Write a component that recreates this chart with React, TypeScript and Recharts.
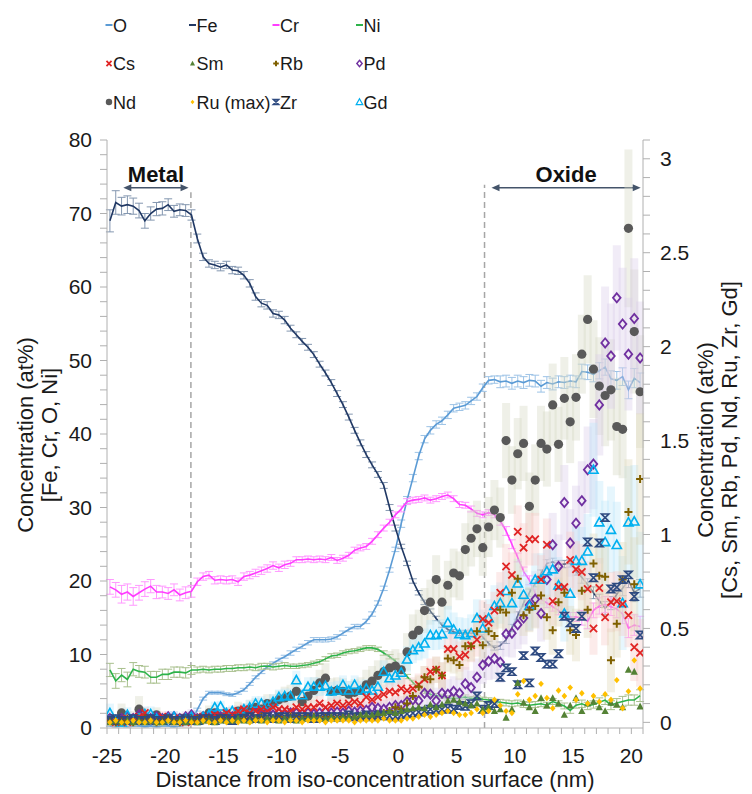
import React from 'react';
import { ComposedChart, Line, Scatter, XAxis, YAxis, ErrorBar, ReferenceLine } from 'recharts';

const FONT = '"Liberation Sans", Arial, sans-serif';
const TXT = '#1a1a1a';
const AXIS = '#b0b0b0';

// distance from the iso-concentration surface (nm)
const X_NM = [
  -24.75, -24.25, -23.75, -23.25, -22.75, -22.25, -21.75, -21.25, -20.75, -20.25,
  -19.75, -19.25, -18.75, -18.25, -17.75, -17.25, -16.75, -16.25, -15.75, -15.25,
  -14.75, -14.25, -13.75, -13.25, -12.75, -12.25, -11.75, -11.25, -10.75, -10.25,
  -9.75, -9.25, -8.75, -8.25, -7.75, -7.25, -6.75, -6.25, -5.75, -5.25,
  -4.75, -4.25, -3.75, -3.25, -2.75, -2.25, -1.75, -1.25, -0.75, -0.25,
  0.25, 0.75, 1.25, 1.75, 2.25, 2.75, 3.25, 3.75, 4.25, 4.75,
  5.25, 5.75, 6.25, 6.75, 7.25, 7.75, 8.25, 8.75, 9.25, 9.75,
  10.25, 10.75, 11.25, 11.75, 12.25, 12.75, 13.25, 13.75, 14.25, 14.75,
  15.25, 15.75, 16.25, 16.75, 17.25, 17.75, 18.25, 18.75, 19.25, 19.75,
  20.25, 20.75,
];

// left axis (at%)
const O = [
  0.3, 0.2, 0.3, 0.2, 0.3, 0.3, 0.2, 0.3, 0.2, 0.3,
  0.3, 0.2, 0.3, 0.4, 0.9, 2.5, 4.0, 4.8, 4.8, 4.8,
  4.6, 4.5, 4.8, 5.2, 6.0, 6.9, 7.6, 8.3, 8.8, 9.3,
  9.7, 10.2, 10.7, 11.1, 11.6, 12.0, 12.0, 12.0, 12.1, 12.4,
  12.9, 13.4, 13.8, 13.8, 14.5, 15.5, 17.0, 19.0, 21.5, 24.3,
  27.8, 31.0, 34.0, 37.0, 39.3, 40.5, 41.3, 41.8, 42.6, 43.5,
  43.7, 43.9, 44.5, 45.1, 46.3, 47.3, 47.4, 47.1, 47.2, 46.9,
  47.2, 47.0, 47.3, 47.2, 46.5, 47.0, 46.8, 47.1, 47.0, 47.2,
  47.1, 48.5, 48.4, 48.1, 48.6, 49.1, 47.5, 47.3, 47.8, 46.0,
  47.6, 47.0,
];
const O_ERR = [
  0.1, 0.1, 0.1, 0.1, 0.1, 0.1, 0.1, 0.1, 0.1, 0.1,
  0.1, 0.1, 0.1, 0.1, 0.1, 0.2, 0.2, 0.2, 0.2, 0.2,
  0.2, 0.2, 0.2, 0.2, 0.2, 0.2, 0.2, 0.2, 0.2, 0.2,
  0.2, 0.3, 0.3, 0.3, 0.3, 0.3, 0.3, 0.3, 0.3, 0.3,
  0.3, 0.3, 0.3, 0.3, 0.3, 0.3, 0.3, 0.3, 0.3, 0.3,
  0.5, 0.5, 0.5, 0.5, 0.5, 0.5, 0.5, 0.5, 0.5, 0.5,
  0.5, 0.5, 0.5, 0.5, 0.5, 0.5, 0.5, 0.8, 0.8, 0.8,
  0.8, 0.8, 0.8, 0.8, 0.8, 0.8, 0.8, 0.8, 0.8, 0.8,
  0.8, 1.0, 1.0, 1.0, 1.1, 1.1, 1.1, 1.2, 1.2, 1.2,
  1.3, 1.3,
];
const FE = [
  69, 71.5, 71, 71.2, 71, 70.4, 69, 70, 70.6, 70.7,
  71.2, 70.3, 70.5, 70.4, 69.8, 66.6, 64.1, 63.2, 63, 62.7,
  63, 62.3, 62.2, 61.6, 60.5, 58.7, 57.8, 57.5, 56.4, 56.2,
  55.5, 54.4, 53.5, 52.6, 51.8, 50.8, 49.5, 48.3, 47, 45.5,
  44, 42.3, 40.5, 38.8, 37.2, 35.8, 34.5, 33, 30, 27.2,
  24.7, 22.4, 20, 18.4, 17.1, 15.9, 14.9, 14, 13.4, 13.1,
  12.9, 13, 12.9, 12.9, 12.4, 11.5, 10.9, 11.2, 12, 13.6,
  15.3, 17, 18.4, 19.7, 21, 22.4, 22.6, 22.3, 22.3, 22.4,
  21.3, 20.5, 19.5, 18.4, 17.3, 16.3, 17, 18.2, 19, 20.1,
  18.4, 19,
];
const FE_ERR = [
  1.5, 1.6, 1.2, 1.2, 1.1, 1.0, 1.0, 0.9, 0.9, 0.9,
  0.8, 0.8, 0.8, 0.8, 0.7, 0.6, 0.5, 0.5, 0.5, 0.5,
  0.5, 0.5, 0.5, 0.5, 0.5, 0.5, 0.5, 0.5, 0.5, 0.5,
  0.5, 0.4, 0.4, 0.4, 0.4, 0.4, 0.4, 0.4, 0.4, 0.4,
  0.4, 0.4, 0.4, 0.4, 0.4, 0.4, 0.4, 0.4, 0.4, 0.4,
  0.3, 0.3, 0.3, 0.3, 0.3, 0.3, 0.3, 0.3, 0.3, 0.3,
  0.3, 0.3, 0.3, 0.3, 0.3, 0.3, 0.3, 0.5, 0.5, 0.5,
  0.5, 0.5, 0.5, 0.5, 0.5, 0.5, 0.5, 0.5, 0.5, 0.5,
  0.5, 0.8, 0.8, 0.8, 0.9, 0.9, 0.9, 1.0, 1.0, 1.0,
  1.2, 1.2,
];
const CR = [
  19.2, 18.8, 18.2, 18.5, 17.9, 18.4, 18.9, 19.3, 18.5, 18.5,
  18.3, 18.8, 18.1, 18.4, 18.6, 19.9, 20.6, 20.8, 20.1, 20.2,
  20.1, 20.2, 19.9, 20.6, 20.8, 21.1, 21.4, 21.7, 22.1, 21.8,
  22.2, 22.4, 22.9, 22.9, 23.0, 22.9, 23.0, 22.9, 23.2, 22.8,
  23.1, 23.5, 24.2, 24.5, 24.7, 25.4, 26.3, 27.2, 28.0, 29.0,
  29.8, 30.8, 31.0, 31.1, 31.3, 31.0, 31.2, 31.5, 31.7, 31.2,
  30.4, 30.3, 29.8, 29.2, 29.0, 29.3, 29.0, 28.2, 26.8, 25.0,
  23.2, 21.3, 20.1, 18.3, 17.5, 17.0, 16.5, 16.0, 15.5, 15.1,
  15.1, 15.0, 14.5, 16.0, 16.6, 16.8, 16.5, 16.2, 15.5, 13.6,
  14.0, 13.8,
];
const CR_ERR = [
  1.0, 1.0, 1.2, 1.1, 1.2, 1.0, 1.0, 0.9, 0.9, 0.8,
  0.8, 0.8, 0.8, 0.8, 0.8, 0.5, 0.5, 0.5, 0.5, 0.5,
  0.5, 0.5, 0.5, 0.5, 0.5, 0.5, 0.5, 0.5, 0.5, 0.5,
  0.5, 0.4, 0.4, 0.4, 0.4, 0.4, 0.4, 0.4, 0.4, 0.4,
  0.4, 0.4, 0.4, 0.4, 0.4, 0.4, 0.4, 0.4, 0.4, 0.4,
  0.4, 0.4, 0.4, 0.4, 0.4, 0.4, 0.4, 0.4, 0.4, 0.4,
  0.4, 0.4, 0.4, 0.4, 0.4, 0.4, 0.4, 0.6, 0.6, 0.6,
  0.6, 0.6, 0.6, 0.6, 0.6, 0.6, 0.6, 0.6, 0.6, 0.6,
  0.6, 1.0, 1.0, 1.0, 1.1, 1.1, 1.2, 1.2, 1.3, 1.3,
  1.4, 1.4,
];
const NI = [
  7.9, 6.4, 7.2, 6.6, 8.0, 7.7, 7.6, 6.9, 6.9, 7.3,
  7.3, 7.6, 7.6, 7.5, 7.9, 7.9, 8.0, 7.9, 8.0, 8.0,
  8.1, 8.1, 8.2, 8.2, 8.3, 8.2, 8.4, 8.4, 8.3, 8.4,
  8.5, 8.4, 8.4, 8.5, 8.6, 8.8, 9.0, 9.4, 9.8, 9.9,
  10.2, 10.4, 10.5, 10.7, 10.9, 10.9, 10.7, 10.2, 9.7, 9.1,
  8.0, 7.0, 6.2, 5.5, 5.0, 4.6, 4.4, 4.3, 4.1, 4.0,
  4.1, 4.2, 4.0, 4.1, 3.9, 3.8, 3.6, 3.5, 3.4, 3.3,
  3.4, 3.2, 3.1, 3.2, 3.3, 3.1, 3.6, 3.3, 3.0, 2.4,
  3.1, 3.3, 3.0, 3.2, 3.5, 3.8, 3.1, 3.4, 3.6, 3.8,
  3.8, 4.4,
];
const NI_ERR = [
  0.9, 1.0, 0.9, 1.0, 0.9, 0.8, 0.8, 0.8, 0.8, 0.7,
  0.7, 0.7, 0.7, 0.7, 0.6, 0.4, 0.4, 0.4, 0.4, 0.4,
  0.4, 0.4, 0.4, 0.4, 0.4, 0.4, 0.4, 0.4, 0.4, 0.4,
  0.4, 0.3, 0.3, 0.3, 0.3, 0.3, 0.3, 0.3, 0.3, 0.3,
  0.3, 0.3, 0.3, 0.3, 0.3, 0.3, 0.3, 0.3, 0.3, 0.3,
  0.3, 0.3, 0.3, 0.3, 0.3, 0.3, 0.3, 0.3, 0.3, 0.3,
  0.3, 0.3, 0.3, 0.3, 0.3, 0.3, 0.3, 0.4, 0.4, 0.4,
  0.4, 0.4, 0.4, 0.4, 0.4, 0.4, 0.4, 0.4, 0.4, 0.4,
  0.4, 0.5, 0.5, 0.5, 0.6, 0.6, 0.6, 0.6, 0.7, 0.7,
  0.7, 0.8,
];

// right axis (at%)
const CS = [
  0.01, 0.0, 0.02, 0.0, 0.01, 0.03, 0.05, 0.02, 0.01, 0.03,
  0.02, 0.01, 0.02, 0.0, 0.01, 0.02, 0.03, 0.02, 0.04, 0.03,
  0.05, 0.04, 0.06, 0.07, 0.05, 0.06, 0.07, 0.06, 0.08, 0.07,
  0.07, 0.06, 0.08, 0.07, 0.08, 0.08, 0.1, 0.08, 0.09, 0.1,
  0.09, 0.1, 0.11, 0.1, 0.135, 0.12, 0.135, 0.15, 0.165, 0.16,
  0.18, 0.17, 0.18, 0.2, 0.23, 0.27, 0.28, 0.25, 0.39, 0.39,
  0.35, 0.36, 0.41, 0.44, 0.55, 0.53, 0.595, 0.69, 0.83, 0.785,
  1.015, 0.93, 0.975, 0.975, 0.76, 0.945, 0.645, 0.72, 0.72, 0.865,
  0.815, 0.8, 0.71, 0.5, 0.715, 0.56, 0.64, 0.645, 0.63, 0.57,
  0.4, 0.37,
];
const CS_ERR = [
  0.03, 0.03, 0.03, 0.03, 0.03, 0.03, 0.03, 0.03, 0.03, 0.03,
  0.03, 0.03, 0.03, 0.03, 0.03, 0.03, 0.03, 0.03, 0.03, 0.03,
  0.03, 0.03, 0.03, 0.03, 0.03, 0.03, 0.03, 0.03, 0.03, 0.03,
  0.04, 0.04, 0.04, 0.04, 0.04, 0.04, 0.04, 0.04, 0.04, 0.04,
  0.04, 0.04, 0.04, 0.04, 0.05, 0.05, 0.05, 0.05, 0.05, 0.05,
  0.06, 0.06, 0.06, 0.06, 0.07, 0.07, 0.07, 0.07, 0.08, 0.08,
  0.08, 0.08, 0.09, 0.09, 0.1, 0.1, 0.1, 0.11, 0.12, 0.12,
  0.14, 0.13, 0.14, 0.14, 0.13, 0.14, 0.13, 0.14, 0.14, 0.15,
  0.15, 0.15, 0.15, 0.14, 0.16, 0.15, 0.16, 0.16, 0.17, 0.17,
  0.18, 0.18,
];
const SM = [
  0.0, 0.01, 0.0, 0.01, 0.0, 0.01, 0.0, 0.01, 0.0, 0.0,
  0.01, 0.0, 0.01, 0.0, 0.01, 0.0, 0.01, 0.01, 0.0, 0.01,
  0.01, 0.01, 0.02, 0.01, 0.01, 0.02, 0.01, 0.02, 0.02, 0.01,
  0.02, 0.02, 0.01, 0.02, 0.02, 0.03, 0.02, 0.02, 0.03, 0.02,
  0.03, 0.03, 0.03, 0.04, 0.04, 0.04, 0.05, 0.05, 0.06, 0.05,
  0.06, 0.07, 0.075, 0.08, 0.075, 0.095, 0.08, 0.095, 0.115, 0.12,
  0.11, 0.1, 0.09, 0.1, 0.07, 0.08, 0.06, 0.07, 0.025, 0.07,
  0.21, 0.105, 0.08, 0.06, 0.13, 0.09, 0.13, 0.1, 0.04, 0.09,
  0.13, 0.06, 0.1, 0.11, 0.08, 0.06, 0.105, 0.095, 0.08, 0.28,
  0.27, 0.085,
];
const RB = [
  0.01, 0.0, 0.01, 0.02, 0.0, 0.01, 0.02, 0.01, 0.0, 0.01,
  0.02, 0.01, 0.0, 0.01, 0.01, 0.02, 0.01, 0.02, 0.01, 0.02,
  0.02, 0.01, 0.02, 0.02, 0.01, 0.02, 0.03, 0.02, 0.02, 0.03,
  0.02, 0.03, 0.03, 0.02, 0.03, 0.03, 0.02, 0.03, 0.03, 0.02,
  0.03, 0.03, 0.02, 0.03, 0.03, 0.03, 0.04, 0.05, 0.06, 0.08,
  0.07, 0.1, 0.14, 0.19, 0.24, 0.23, 0.28, 0.25, 0.34, 0.33,
  0.305, 0.405, 0.405, 0.485, 0.41, 0.485, 0.46, 0.6, 0.585, 0.69,
  0.765, 0.57, 0.6, 0.62, 0.675, 0.56, 0.49, 0.64, 0.69, 0.49,
  0.465, 0.7, 0.6, 0.845, 0.78, 0.775, 0.33, 0.525, 0.76, 1.12,
  0.735, 1.295,
];
const RB_ERR = [
  0.02, 0.02, 0.02, 0.02, 0.02, 0.02, 0.02, 0.02, 0.02, 0.02,
  0.02, 0.02, 0.02, 0.02, 0.02, 0.02, 0.02, 0.02, 0.02, 0.02,
  0.02, 0.02, 0.02, 0.02, 0.02, 0.02, 0.02, 0.02, 0.02, 0.02,
  0.02, 0.02, 0.02, 0.02, 0.02, 0.02, 0.02, 0.02, 0.02, 0.02,
  0.02, 0.02, 0.02, 0.02, 0.02, 0.02, 0.02, 0.02, 0.02, 0.02,
  0.04, 0.05, 0.05, 0.06, 0.06, 0.06, 0.07, 0.07, 0.07, 0.07,
  0.08, 0.08, 0.08, 0.09, 0.09, 0.09, 0.1, 0.1, 0.1, 0.11,
  0.11, 0.11, 0.12, 0.12, 0.12, 0.12, 0.13, 0.13, 0.13, 0.13,
  0.14, 0.15, 0.15, 0.16, 0.16, 0.17, 0.17, 0.18, 0.2, 0.28,
  0.25, 0.35,
];
const PD = [
  0.02, 0.01, 0.02, 0.03, 0.02, 0.04, 0.03, 0.02, 0.03, 0.02,
  0.03, 0.03, 0.02, 0.03, 0.04, 0.02, 0.03, 0.03, 0.04, 0.03,
  0.04, 0.03, 0.04, 0.05, 0.04, 0.05, 0.04, 0.05, 0.04, 0.05,
  0.04, 0.05, 0.05, 0.045, 0.05, 0.045, 0.05, 0.055, 0.05, 0.055,
  0.05, 0.06, 0.055, 0.06, 0.065, 0.08, 0.075, 0.07, 0.08, 0.09,
  0.09, 0.11, 0.12, 0.115, 0.155, 0.15, 0.115, 0.155, 0.15, 0.165,
  0.155, 0.205, 0.185, 0.24, 0.305, 0.325, 0.34, 0.32, 0.47, 0.475,
  0.52, 0.555, 0.625, 0.655, 0.58, 0.76, 0.945, 0.83, 1.17, 0.955,
  1.06, 1.18, 1.345, 1.375, 1.69, 2.02, 1.95, 2.26, 2.12, 1.96,
  2.15, 1.94,
];
const PD_ERR = [
  0.03, 0.03, 0.03, 0.03, 0.03, 0.03, 0.03, 0.03, 0.03, 0.03,
  0.03, 0.03, 0.03, 0.03, 0.03, 0.03, 0.03, 0.03, 0.03, 0.03,
  0.03, 0.03, 0.03, 0.03, 0.03, 0.03, 0.03, 0.03, 0.03, 0.03,
  0.03, 0.03, 0.03, 0.03, 0.03, 0.04, 0.04, 0.04, 0.04, 0.04,
  0.04, 0.04, 0.04, 0.04, 0.05, 0.05, 0.05, 0.05, 0.05, 0.05,
  0.05, 0.06, 0.06, 0.06, 0.07, 0.07, 0.07, 0.07, 0.08, 0.08,
  0.08, 0.09, 0.09, 0.1, 0.1, 0.1, 0.11, 0.11, 0.12, 0.13,
  0.13, 0.14, 0.14, 0.15, 0.15, 0.16, 0.17, 0.17, 0.2, 0.18,
  0.2, 0.21, 0.23, 0.24, 0.27, 0.3, 0.28, 0.28, 0.3, 0.3,
  0.32, 0.3,
];
const ND = [
  0.02, 0.01, 0.05, 0.01, 0.02, 0.07, 0.03, 0.02, 0.04, 0.01,
  0.02, 0.01, 0.02, 0.01, 0.02, 0.01, 0.03, 0.05, 0.05, 0.03,
  0.04, 0.03, 0.06, 0.05, 0.07, 0.08, 0.07, 0.1, 0.1, 0.12,
  0.13, 0.14, 0.165, 0.11, 0.14, 0.17, 0.21, 0.235, 0.165, 0.17,
  0.165, 0.15, 0.16, 0.17, 0.2, 0.22, 0.25, 0.27, 0.29, 0.3,
  0.28, 0.375, 0.465, 0.49, 0.595, 0.64, 0.76, 0.64, 0.73, 0.795,
  0.78, 0.92, 0.98, 1.03, 0.93, 1.04, 1.13, 1.09, 1.5, 1.29,
  1.43, 1.485, 1.15, 1.29, 1.485, 1.455, 1.69, 1.48, 1.725, 1.6,
  1.73, 1.96, 2.145, 1.88, 1.79, 1.74, 1.77, 1.575, 1.56, 2.63,
  2.08, 1.76,
];
const ND_ERR = [
  0.04, 0.03, 0.05, 0.03, 0.04, 0.07, 0.04, 0.03, 0.04, 0.03,
  0.03, 0.03, 0.03, 0.03, 0.03, 0.03, 0.03, 0.04, 0.04, 0.04,
  0.04, 0.04, 0.05, 0.05, 0.05, 0.05, 0.05, 0.05, 0.05, 0.05,
  0.06, 0.06, 0.07, 0.06, 0.06, 0.07, 0.07, 0.08, 0.07, 0.07,
  0.07, 0.07, 0.07, 0.07, 0.08, 0.08, 0.08, 0.09, 0.09, 0.09,
  0.09, 0.1, 0.11, 0.11, 0.12, 0.12, 0.13, 0.12, 0.13, 0.13,
  0.13, 0.14, 0.15, 0.15, 0.15, 0.16, 0.16, 0.16, 0.2, 0.18,
  0.19, 0.2, 0.18, 0.19, 0.2, 0.2, 0.22, 0.2, 0.22, 0.22,
  0.23, 0.21, 0.235, 0.26, 0.26, 0.27, 0.27, 0.26, 0.26, 0.42,
  0.33, 0.3,
];
const RU = [
  0.0, 0.01, 0.0, 0.0, 0.01, 0.0, 0.0, 0.01, 0.0, 0.0,
  0.01, 0.0, 0.0, 0.01, 0.0, 0.0, 0.01, 0.0, 0.0, 0.01,
  0.0, 0.01, 0.0, 0.01, 0.0, 0.01, 0.01, 0.0, 0.01, 0.01,
  0.0, 0.01, 0.01, 0.0, 0.01, 0.01, 0.01, 0.0, 0.01, 0.01,
  0.01, 0.01, 0.0, 0.01, 0.01, 0.01, 0.01, 0.02, 0.01, 0.01,
  0.01, 0.02, 0.02, 0.03, 0.04, 0.03, 0.04, 0.05, 0.06, 0.05,
  0.04, 0.04, 0.05, 0.07, 0.05, 0.06, 0.12, 0.09, 0.06, 0.05,
  0.15, 0.22, 0.12, 0.14, 0.205, 0.13, 0.075, 0.17, 0.14, 0.185,
  0.12, 0.155, 0.1, 0.14, 0.11, 0.15, 0.12, 0.225, 0.075, 0.165,
  0.33, 0.18,
];
const ZR = [
  0.01, 0.02, 0.01, 0.01, 0.02, 0.01, 0.01, 0.02, 0.01, 0.01,
  0.02, 0.01, 0.01, 0.02, 0.01, 0.01, 0.02, 0.02, 0.01, 0.02,
  0.02, 0.01, 0.02, 0.02, 0.03, 0.02, 0.02, 0.03, 0.02, 0.03,
  0.03, 0.02, 0.03, 0.03, 0.03, 0.02, 0.03, 0.03, 0.03, 0.03,
  0.03, 0.04, 0.03, 0.03, 0.04, 0.03, 0.04, 0.035, 0.035, 0.03,
  0.04, 0.045, 0.05, 0.055, 0.06, 0.07, 0.065, 0.07, 0.075, 0.07,
  0.09, 0.085, 0.1, 0.14, 0.07, 0.09, 0.1, 0.24, 0.29, 0.27,
  0.2, 0.355, 0.21, 0.38, 0.345, 0.31, 0.31, 0.365, 0.565, 0.53,
  0.5, 0.565, 0.96, 0.77, 0.955, 1.09, 0.71, 0.72, 0.76, 0.785,
  0.67, 0.465,
];
const GD = [
  0.05, 0.01, 0.0, 0.04, 0.01, 0.02, 0.045, 0.045, 0.02, 0.01,
  0.02, 0.03, 0.01, 0.02, 0.03, 0.01, 0.03, 0.04, 0.08, 0.085,
  0.05, 0.06, 0.05, 0.07, 0.08, 0.1, 0.1, 0.09, 0.11, 0.135,
  0.14, 0.14, 0.225, 0.145, 0.19, 0.19, 0.19, 0.195, 0.165, 0.17,
  0.2, 0.17, 0.2, 0.17, 0.18, 0.17, 0.19, 0.27, 0.235, 0.25,
  0.265, 0.335, 0.385, 0.4, 0.42, 0.465, 0.465, 0.47, 0.53, 0.495,
  0.47, 0.465, 0.475, 0.555, 0.5, 0.555, 0.62, 0.635, 0.7, 0.635,
  0.74, 0.68, 0.62, 0.76, 0.76, 0.805, 0.815, 0.73, 0.58, 0.685,
  0.86, 0.86, 0.91, 1.345, 1.065, 0.96, 1.025, 0.945, 0.635, 1.065,
  1.07, 0.735,
];
const GD_ERR = [
  0.05, 0.03, 0.03, 0.04, 0.03, 0.03, 0.04, 0.04, 0.03, 0.03,
  0.03, 0.03, 0.03, 0.03, 0.03, 0.03, 0.03, 0.03, 0.03, 0.03,
  0.03, 0.03, 0.03, 0.03, 0.04, 0.04, 0.04, 0.04, 0.04, 0.04,
  0.04, 0.04, 0.05, 0.04, 0.05, 0.05, 0.05, 0.05, 0.05, 0.05,
  0.05, 0.05, 0.05, 0.05, 0.05, 0.05, 0.05, 0.06, 0.06, 0.06,
  0.06, 0.07, 0.07, 0.07, 0.08, 0.08, 0.08, 0.08, 0.09, 0.09,
  0.09, 0.09, 0.1, 0.1, 0.1, 0.1, 0.11, 0.11, 0.12, 0.12,
  0.13, 0.13, 0.13, 0.14, 0.14, 0.15, 0.15, 0.15, 0.15, 0.16,
  0.18, 0.18, 0.2, 0.25, 0.22, 0.22, 0.23, 0.23, 0.25, 0.3,
  0.3, 0.28,
];

const X_TICKS = [
  -25, -24, -23, -22, -21, -20, -19, -18, -17, -16, -15, -14, -13, -12, -11, -10,
  -9, -8, -7, -6, -5, -4, -3, -2, -1, 0, 1, 2, 3, 4, 5, 6, 7, 8, 9, 10,
  11, 12, 13, 14, 15, 16, 17, 18, 19, 20, 21,
];
const L_TICKS = [
  0, 2, 4, 6, 8, 10, 12, 14, 16, 18, 20, 22, 24, 26, 28, 30, 32, 34, 36, 38, 40,
  42, 44, 46, 48, 50, 52, 54, 56, 58, 60, 62, 64, 66, 68, 70, 72, 74, 76, 78, 80,
];
const R_TICKS = [
  0, 0.1, 0.2, 0.3, 0.4, 0.5, 0.6, 0.7, 0.8, 0.9, 1, 1.1, 1.2, 1.3, 1.4, 1.5,
  1.6, 1.7, 1.8, 1.9, 2, 2.1, 2.2, 2.3, 2.4, 2.5, 2.6, 2.7, 2.8, 2.9, 3, 3.1,
];

const METAL_EDGE = -17.8;
const OXIDE_EDGE = 7.4;

const C: Record<string, string> = {
  o: '#5b9bd5',
  fe: '#203864',
  cr: '#ff3dff',
  ni: '#2db34a',
  cs: '#e02424',
  sm: '#548235',
  rb: '#7f6000',
  pd: '#7030a0',
  nd: '#595959',
  ru: '#ffc000',
  zr: '#2e4a80',
  gd: '#00b0f0',
};

const LEGEND = [
  [
    { key: 'o', name: 'O', kind: 'line' },
    { key: 'fe', name: 'Fe', kind: 'line' },
    { key: 'cr', name: 'Cr', kind: 'line' },
    { key: 'ni', name: 'Ni', kind: 'line' },
  ],
  [
    { key: 'cs', name: 'Cs', kind: 'cs' },
    { key: 'sm', name: 'Sm', kind: 'sm' },
    { key: 'rb', name: 'Rb', kind: 'rb' },
    { key: 'pd', name: 'Pd', kind: 'pd' },
  ],
  [
    { key: 'nd', name: 'Nd', kind: 'nd' },
    { key: 'ru', name: 'Ru (max)', kind: 'ru' },
    { key: 'zr', name: 'Zr', kind: 'zr' },
    { key: 'gd', name: 'Gd', kind: 'gd' },
  ],
];

const rows = X_NM.map((x, i) => ({
  x,
  o: O[i], oErr: O_ERR[i],
  fe: FE[i], feErr: FE_ERR[i],
  cr: CR[i], crErr: CR_ERR[i],
  ni: NI[i], niErr: NI_ERR[i],
  cs: CS[i], csErr: CS_ERR[i],
  sm: SM[i],
  rb: RB[i], rbErr: RB_ERR[i],
  pd: PD[i], pdErr: PD_ERR[i],
  nd: ND[i], ndErr: ND_ERR[i],
  ru: RU[i],
  zr: ZR[i],
  gd: GD[i], gdErr: GD_ERR[i],
}));

function marker(kind: string, cx: number, cy: number, s = 1) {
  const a = 3.6 * s;
  switch (kind) {
    case 'nd':
      return <circle cx={cx} cy={cy} r={4.6 * s} fill={C.nd} />;
    case 'pd':
      return (
        <path
          d={`M${cx} ${cy - 4.6 * s}L${cx + 3.8 * s} ${cy}L${cx} ${cy + 4.6 * s}L${cx - 3.8 * s} ${cy}Z`}
          fill="none" stroke={C.pd} strokeWidth={1.8 * Math.max(s, 0.8)}
        />
      );
    case 'gd':
      return (
        <path
          d={`M${cx} ${cy - 4.6 * s}L${cx + 4.6 * s} ${cy + 3.6 * s}L${cx - 4.6 * s} ${cy + 3.6 * s}Z`}
          fill="none" stroke={C.gd} strokeWidth={1.6 * Math.max(s, 0.8)}
        />
      );
    case 'cs':
      return (
        <path
          d={`M${cx - a} ${cy - a}L${cx + a} ${cy + a}M${cx + a} ${cy - a}L${cx - a} ${cy + a}`}
          stroke={C.cs} strokeWidth={1.8} fill="none"
        />
      );
    case 'rb':
      return (
        <path
          d={`M${cx - 4 * s} ${cy}L${cx + 4 * s} ${cy}M${cx} ${cy - 4 * s}L${cx} ${cy + 4 * s}`}
          stroke={C.rb} strokeWidth={2} fill="none"
        />
      );
    case 'sm':
      return (
        <path
          d={`M${cx} ${cy - 3.8 * s}L${cx + 3.6 * s} ${cy + 3 * s}L${cx - 3.6 * s} ${cy + 3 * s}Z`}
          fill={C.sm}
        />
      );
    case 'ru':
      return (
        <path
          d={`M${cx} ${cy - 3.2 * s}L${cx + 2.8 * s} ${cy}L${cx} ${cy + 3.2 * s}L${cx - 2.8 * s} ${cy}Z`}
          fill={C.ru}
        />
      );
    case 'zr':
      return (
        <path
          d={`M${cx - a} ${cy - a}L${cx + a} ${cy - a}L${cx - a} ${cy + a}L${cx + a} ${cy + a}Z`}
          fill="none" stroke={C.zr} strokeWidth={1.7}
        />
      );
    default:
      return <g />;
  }
}

const shapeOf = (kind: string) => (p: any) => marker(kind, p.cx, p.cy);

const XTick = (p: any) => {
  const v = p.payload.value as number;
  if (v % 5 !== 0) return <g />;
  return (
    <text x={p.x} y={p.y} dy="0.71em" textAnchor="middle" fontSize={21} fill={TXT} fontFamily={FONT}>
      {v}
    </text>
  );
};

const LTick = (p: any) => {
  const v = p.payload.value as number;
  if (v % 10 !== 0) return <g />;
  return (
    <text x={p.x} y={p.y} dy="0.355em" textAnchor="end" fontSize={21} fill={TXT} fontFamily={FONT}>
      {v}
    </text>
  );
};

const RTick = (p: any) => {
  const v = p.payload.value as number;
  if (Math.abs(v * 2 - Math.round(v * 2)) > 1e-6) return <g />;
  return (
    <text x={p.x} y={p.y} dy="0.355em" textAnchor="start" fontSize={21} fill={TXT} fontFamily={FONT}>
      {v}
    </text>
  );
};

const arrowShape = (label: string) => (p: any) => {
  const { x1, y1, x2, y2 } = p;
  const col = '#44546a';
  return (
    <g>
      <line x1={x1 + 5} y1={y1} x2={x2 - 5} y2={y2} stroke={col} strokeWidth={1.6} />
      <path d={`M${x1} ${y1}L${x1 + 8} ${y1 - 3.5}L${x1 + 8} ${y1 + 3.5}Z`} fill={col} />
      <path d={`M${x2} ${y2}L${x2 - 8} ${y2 - 3.5}L${x2 - 8} ${y2 + 3.5}Z`} fill={col} />
      <text
        x={(x1 + x2) / 2} y={y1 - 6} textAnchor="middle" fontSize={22} fontWeight="bold"
        fill="#111" fontFamily={FONT}
      >
        {label}
      </text>
    </g>
  );
};

function Overlay() {
  const colX = [104, 187.5, 271, 354.5];
  const rowY = [25, 63.5, 102];
  return (
    <svg
      width={752} height={794}
      style={{ position: 'absolute', left: 0, top: 0, pointerEvents: 'none' }}
      fontFamily={FONT}
    >
      {LEGEND.map((row, r) =>
        row.map((item, c) => {
          const cx = colX[c] + 5;
          const cy = rowY[r];
          return (
            <g key={item.key}>
              {item.kind === 'line' ? (
                <line x1={cx - 3.5} x2={cx + 3.5} y1={cy} y2={cy} stroke={C[item.key]} strokeWidth={2} />
              ) : (
                marker(item.kind, cx, cy, 0.7)
              )}
              <text x={colX[c] + 9} y={cy + 6.5} fontSize={18} fill={TXT}>
                {item.name}
              </text>
            </g>
          );
        }),
      )}
      <g fontSize={22} fill={TXT} textAnchor="middle">
        <text transform="translate(33,435) rotate(-90)">Concentration (at%)</text>
        <text transform="translate(57,435) rotate(-90)">[Fe, Cr, O, Ni]</text>
        <text transform="translate(713,440) rotate(-90)">Concentration (at%)</text>
        <text transform="translate(737,440) rotate(-90)">[Cs, Sm, Rb, Pd, Nd, Ru, Zr, Gd]</text>
        <text x={375} y={787}>Distance from iso-concentration surface (nm)</text>
      </g>
    </svg>
  );
}

export default function App() {
  return (
    <div style={{ position: 'absolute', left: 0, top: 0, width: 752, height: 794, background: '#fff' }}>
      <ComposedChart width={752} height={794} data={rows} margin={{ top: 140, right: 0, bottom: 0, left: 0 }}>
        <XAxis
          type="number" dataKey="x" domain={[-25, 21]} ticks={X_TICKS} interval={0}
          tick={XTick} tickSize={6} tickMargin={14} height={66} stroke={AXIS} allowDataOverflow
        />
        <YAxis
          yAxisId="l" type="number" domain={[0, 80]} ticks={L_TICKS} interval={0}
          tick={LTick} tickSize={7} tickMargin={8} width={107} stroke={AXIS}
        />
        <YAxis
          yAxisId="r" orientation="right" type="number" domain={[0, 3.1]} ticks={R_TICKS} interval={0}
          tick={RTick} tickSize={7} tickMargin={10} width={109} stroke={AXIS}
        />

        <ReferenceLine
          yAxisId="l" segment={[{ x: METAL_EDGE, y: 0 }, { x: METAL_EDGE, y: 72.9 }]}
          stroke="#a6a6a6" strokeWidth={1.5} strokeDasharray="6 4"
        />
        <ReferenceLine
          yAxisId="l" segment={[{ x: OXIDE_EDGE, y: 0 }, { x: OXIDE_EDGE, y: 73.9 }]}
          stroke="#a6a6a6" strokeWidth={1.5} strokeDasharray="6 4"
        />
        <ReferenceLine
          yAxisId="l" segment={[{ x: -23.6, y: 73.5 }, { x: -18.0, y: 73.5 }]}
          shape={arrowShape('Metal')}
        />
        <ReferenceLine
          yAxisId="l" segment={[{ x: 8.0, y: 73.5 }, { x: 20.8, y: 73.5 }]}
          shape={arrowShape('Oxide')}
        />

        <Line yAxisId="l" type="linear" dataKey="o" stroke={C.o} strokeWidth={1.6} dot={false} isAnimationActive={false}>
          <ErrorBar dataKey="oErr" direction="y" width={4} stroke="#9dc3e6" strokeWidth={1} isAnimationActive={false} />
        </Line>
        <Line yAxisId="l" type="linear" dataKey="fe" stroke={C.fe} strokeWidth={1.6} dot={false} isAnimationActive={false}>
          <ErrorBar dataKey="feErr" direction="y" width={4} stroke="#8497b0" strokeWidth={1} isAnimationActive={false} />
        </Line>
        <Line yAxisId="l" type="linear" dataKey="cr" stroke={C.cr} strokeWidth={1.6} dot={false} isAnimationActive={false}>
          <ErrorBar dataKey="crErr" direction="y" width={4} stroke="#ff99ff" strokeWidth={1} isAnimationActive={false} />
        </Line>
        <Line yAxisId="l" type="linear" dataKey="ni" stroke={C.ni} strokeWidth={1.6} dot={false} isAnimationActive={false}>
          <ErrorBar dataKey="niErr" direction="y" width={4} stroke="#a9c08e" strokeWidth={1} isAnimationActive={false} />
        </Line>

        <Scatter yAxisId="r" dataKey="nd" shape={shapeOf('nd')} isAnimationActive={false}>
          <ErrorBar dataKey="ndErr" direction="y" width={0} stroke="#d6d9c6" strokeOpacity={0.4} strokeWidth={8} isAnimationActive={false} />
        </Scatter>
        <Scatter yAxisId="r" dataKey="pd" shape={shapeOf('pd')} isAnimationActive={false}>
          <ErrorBar dataKey="pdErr" direction="y" width={0} stroke="#dacdea" strokeOpacity={0.38} strokeWidth={8} isAnimationActive={false} />
        </Scatter>
        <Scatter yAxisId="r" dataKey="gd" shape={shapeOf('gd')} isAnimationActive={false}>
          <ErrorBar dataKey="gdErr" direction="y" width={0} stroke="#bde8fb" strokeOpacity={0.38} strokeWidth={8} isAnimationActive={false} />
        </Scatter>
        <Scatter yAxisId="r" dataKey="cs" shape={shapeOf('cs')} isAnimationActive={false}>
          <ErrorBar dataKey="csErr" direction="y" width={0} stroke="#f6cbc7" strokeOpacity={0.38} strokeWidth={8} isAnimationActive={false} />
        </Scatter>
        <Scatter yAxisId="r" dataKey="rb" shape={shapeOf('rb')} isAnimationActive={false}>
          <ErrorBar dataKey="rbErr" direction="y" width={0} stroke="#e0d8b8" strokeOpacity={0.38} strokeWidth={8} isAnimationActive={false} />
        </Scatter>
        <Scatter yAxisId="r" dataKey="zr" shape={shapeOf('zr')} isAnimationActive={false} />
        <Scatter yAxisId="r" dataKey="sm" shape={shapeOf('sm')} isAnimationActive={false} />
        <Scatter yAxisId="r" dataKey="ru" shape={shapeOf('ru')} isAnimationActive={false} />
      </ComposedChart>
      <Overlay />
    </div>
  );
}
